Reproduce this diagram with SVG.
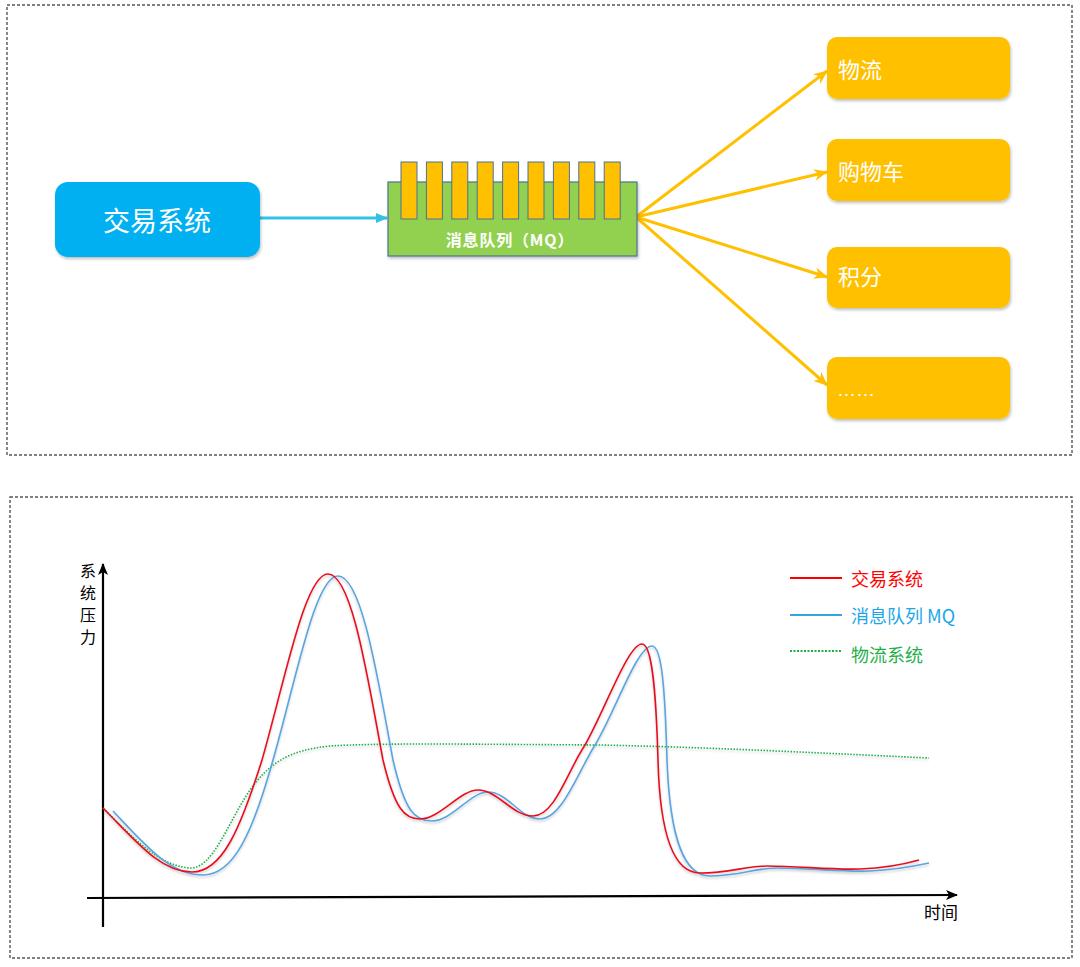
<svg xmlns="http://www.w3.org/2000/svg" width="1080" height="967" viewBox="0 0 1080 967">
<style>
.frame{fill:none;stroke:#555;stroke-width:1.4;stroke-dasharray:3 2}
.cjk{font-family:"Noto Sans CJK SC","Noto Sans",sans-serif}
.wt{fill:#fff}
.ob{fill:#FFC000}
.oa{stroke:#FFC000;stroke-width:3;fill:none;marker-end:url(#ah-o)}
.tooth{fill:#FFC000;stroke:#4A7394;stroke-width:1}
.ax{stroke:#000;stroke-width:2.2;fill:none}
.red{stroke:#E8101E;stroke-width:1.6;fill:none}
.blue{stroke:#5AA5E0;stroke-width:1.6;fill:none}
.green{stroke:#1FAF4A;stroke-width:1.6;fill:none;stroke-dasharray:1.5 1.5}
</style>
<defs>
<marker id="ah-o" markerUnits="userSpaceOnUse" markerWidth="14" markerHeight="12" refX="13" refY="6" orient="auto"><path d="M0,0 L14,6 L0,12 L4,6 Z" fill="#FFC000"/></marker>
<marker id="ah-c" markerUnits="userSpaceOnUse" markerWidth="12" markerHeight="10" refX="11" refY="5" orient="auto"><path d="M0,0 L12,5 L0,10 Z" fill="#33C2E6"/></marker>
<marker id="ah-k" markerUnits="userSpaceOnUse" markerWidth="12" markerHeight="10" refX="11" refY="5" orient="auto"><path d="M0,0 L12,5 L0,10 L3,5 Z" fill="#000"/></marker>
<filter id="sh" x="-10%" y="-10%" width="130%" height="140%"><feDropShadow dx="1" dy="2" stdDeviation="1.5" flood-color="#000" flood-opacity="0.25"/></filter>
<filter id="lsh" x="-5%" y="-5%" width="110%" height="115%"><feDropShadow dx="0" dy="2" stdDeviation="1.2" flood-color="#000" flood-opacity="0.18"/></filter>
</defs>

<rect class="frame" x="7" y="5" width="1065" height="450"/>
<rect class="frame" x="10" y="497" width="1062" height="461"/>

<g id="connectors">
<line x1="260" y1="218" x2="387" y2="218" stroke="#33C2E6" stroke-width="3" marker-end="url(#ah-c)"/>
<line class="oa" x1="636" y1="217" x2="827" y2="71"/>
<line class="oa" x1="636" y1="217" x2="827" y2="172"/>
<line class="oa" x1="636" y1="217" x2="827" y2="277"/>
<line class="oa" x1="636" y1="217" x2="827" y2="385"/>
</g>

<g id="trade">
<rect x="55" y="182" width="205" height="75" rx="13" fill="#00B0F0" filter="url(#sh)"/>
<text class="cjk wt" x="157" y="231" font-size="27" text-anchor="middle">交易系统</text>
</g>

<g id="mq">
<rect x="388" y="182" width="249" height="74" fill="#92D050" stroke="#4A7394" stroke-width="1.2" filter="url(#sh)"/>
<rect class="tooth" x="401" y="162" width="16" height="57"/>
<rect class="tooth" x="426.4" y="162" width="16" height="57"/>
<rect class="tooth" x="451.8" y="162" width="16" height="57"/>
<rect class="tooth" x="477.2" y="162" width="16" height="57"/>
<rect class="tooth" x="502.6" y="162" width="16" height="57"/>
<rect class="tooth" x="528" y="162" width="16" height="57"/>
<rect class="tooth" x="553.4" y="162" width="16" height="57"/>
<rect class="tooth" x="578.8" y="162" width="16" height="57"/>
<rect class="tooth" x="604.2" y="162" width="16" height="57"/>
<text class="cjk wt" x="510" y="246" font-size="16" font-weight="bold" letter-spacing="0.8" text-anchor="middle">消息队列（MQ）</text>
</g>

<g id="logistics">
<rect class="ob" x="827" y="37" width="183" height="62" rx="10" filter="url(#sh)"/>
<text class="cjk wt" x="838" y="78" font-size="22">物流</text>
</g>
<g id="cart">
<rect class="ob" x="827" y="139" width="183" height="62" rx="10" filter="url(#sh)"/>
<text class="cjk wt" x="838" y="180" font-size="22">购物车</text>
</g>
<g id="points">
<rect class="ob" x="827" y="247" width="183" height="61" rx="10" filter="url(#sh)"/>
<text class="cjk wt" x="838" y="285" font-size="22">积分</text>
</g>
<g id="more">
<rect class="ob" x="827" y="357" width="183" height="62" rx="10" filter="url(#sh)"/>
<text x="837" y="396" font-size="19" font-family="Liberation Sans,sans-serif" fill="#fff">……</text>
</g>

<g id="chart">
<line class="ax" x1="103" y1="927" x2="103" y2="564" marker-end="url(#ah-k)"/>
<line class="ax" x1="87" y1="898" x2="957" y2="895" marker-end="url(#ah-k)"/>
<text class="cjk" x="88" y="563" font-size="16" letter-spacing="6" writing-mode="vertical-rl" fill="#000">系统压力</text>
<text class="cjk" x="941" y="919" font-size="17" text-anchor="middle" fill="#000">时间</text>
<g filter="url(#lsh)">
<path class="green" d="M103,808 C135,840 160,866 190,868 C213,869 228,822 250,790 C270,762 290,750 330,746 C380,743 450,744 600,745 C700,747 800,752 929,758"/>
<path class="blue" d="M113,811 C145,845 170,875 203,875 C233,875 252,835 273,760 C296,680 315,576 338,576 C362,576 378,680 393,760 C405,812 415,821 432,821 C452,821 470,792 488,792 C508,792 520,819 540,819 C562,819 578,772 595,745 C615,712 637,646 652,646 C662,646 665,690 667,760 C670,842 685,876 710,876 C740,876 755,868 777,868 C810,868 840,872 870,871 C895,870 915,866 929,863"/>
<path class="red" d="M103,808 C135,840 160,872 192,872 C222,872 240,830 262,760 C285,680 305,574 328,574 C352,574 368,680 383,760 C395,810 405,819 420,819 C440,819 460,790 478,790 C498,790 512,816 533,816 C555,816 568,770 585,745 C605,710 628,644 642,644 C652,644 656,690 658,760 C660,840 675,873 700,873 C730,873 745,866 767,866 C800,866 830,870 860,869 C885,868 905,864 919,860"/>
</g>
</g>

<g id="legend" class="cjk" font-size="18">
<line x1="790" y1="578" x2="842" y2="578" stroke="#FF0000" stroke-width="2"/>
<text x="851" y="586" fill="#FF0000">交易系统</text>
<line x1="790" y1="615" x2="842" y2="615" stroke="#33A8E0" stroke-width="2"/>
<text x="851" y="623" fill="#1AA7E8">消息队列 MQ</text>
<line x1="790" y1="651" x2="842" y2="651" stroke="#1FAF4A" stroke-width="2" stroke-dasharray="2 1.5"/>
<text x="851" y="662" fill="#1FAF4A">物流系统</text>
</g>
</svg>
